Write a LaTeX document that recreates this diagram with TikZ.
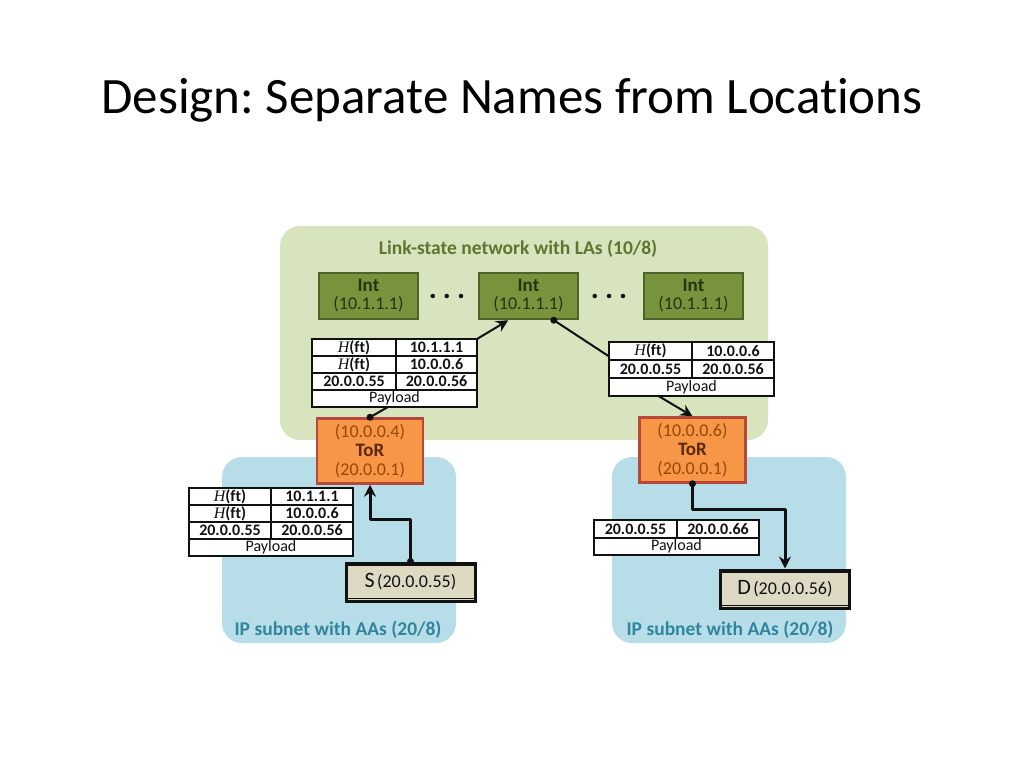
\documentclass[tikz,border=0pt]{standalone}
\usepackage{fontspec}
\setmainfont{Carlito}[Ligatures=NoCommon]
\newfontfamily\hfont{Liberation Serif}
\usepackage{xcolor}
\usetikzlibrary{positioning,calc,arrows.meta}
\definecolor{lagreen}{HTML}{D7E4BD}
\definecolor{latext}{HTML}{5F7530}
\definecolor{intfill}{HTML}{77933C}
\definecolor{intedge}{HTML}{4F6228}
\definecolor{inttext}{HTML}{26330D}
\definecolor{aablue}{HTML}{B7DEE8}
\definecolor{aatext}{HTML}{31859C}
\definecolor{torfill}{HTML}{F79646}
\definecolor{toredge}{HTML}{B5483A}
\definecolor{tortext}{HTML}{974806}
\definecolor{torname}{HTML}{5A2A08}
\definecolor{hostfill}{HTML}{DDD9C3}
\definecolor{ink}{HTML}{111111}
\newcommand{\Hft}{{\hfont\mdseries\itshape H}(ft)}
\frenchspacing
\tikzset{
  region/.style={rounded corners=20pt},
  zonelabel/.style={font=\fontsize{19.5}{20}\selectfont\bfseries},
  intbox/.style={
    draw=intedge, fill=intfill, line width=2.5pt,
    minimum width=99pt, minimum height=46pt, inner sep=0pt,
    align=center, text=inttext, font=\fontsize{18}{18}\selectfont
  },
  torbox/.style={
    draw=toredge, fill=torfill, line width=2.5pt,
    minimum width=106pt, minimum height=65pt, inner sep=0pt,
    align=center, text=tortext, font=\fontsize{18}{19}\selectfont
  },
  cell/.style={
    draw=ink, fill=white, line width=1.6pt,
    minimum height=17pt, inner sep=0pt, outer sep=0pt,
    text=ink, font=\fontsize{16}{16}\selectfont\bfseries
  },
  paycell/.style={cell, font=\fontsize{16}{16}\selectfont},
  hostbox/.style={
    draw=ink, fill=hostfill, line width=3pt,
    minimum width=129pt, minimum height=38pt, inner sep=0pt, text=ink
  },
  hop/.style={draw=ink, line width=2pt, line join=round,
    -{Stealth[length=12pt,width=12pt,inset=4pt]}},
  hopthick/.style={hop, line width=3pt},
  wire/.style={draw=ink, line width=2pt},
  dot/.style={circle, fill=ink, inner sep=0pt, minimum size=7pt},
  ellip/.style={font=\fontsize{30}{30}\selectfont\bfseries, text=ink, inner sep=0pt}
}

\begin{document}
\begin{tikzpicture}[x=1pt, y=-1pt]
  \useasboundingbox[fill=white] (0,0) rectangle (1024,768);

  \node[font=\fontsize{51}{51}\selectfont, anchor=base] (title) at (512,113)
    {Design: Separate Names from Locations};

  % the three zones
  \fill[region, lagreen] (280,226) rectangle (768,440);
  \fill[region, aablue] (222,457) rectangle (456,643);
  \fill[region, aablue] (612,457) rectangle (846,643);
  \node[zonelabel, text=latext] (lalabel) at (518,249) {Link-state network with LAs (10/8)};
  \node[zonelabel, text=aatext] (aalabell) at (338,630) {IP subnet with AAs (20/8)};
  \node[zonelabel, text=aatext] (aalabelr) at (730,630) {IP subnet with AAs (20/8)};

  % intermediate switches
  \node[intbox] (intl) at (368.5,296) {{\fontsize{19}{19}\selectfont\bfseries Int}\\(10.1.1.1)};
  \node[intbox] (intm) at (528.5,296) {{\fontsize{19}{19}\selectfont\bfseries Int}\\(10.1.1.1)};
  \node[intbox] (intr) at (693.5,296) {{\fontsize{19}{19}\selectfont\bfseries Int}\\(10.1.1.1)};
  \node[ellip] (dotsl) at (447,296) {.\hspace{6pt}.\hspace{6pt}.};
  \node[ellip] (dotsr) at (609,296) {.\hspace{6pt}.\hspace{6pt}.};

  % packet leaving the source ToR
  \node[cell, minimum width=84pt, anchor=north west] (la1) at (312,339) {\Hft};
  \node[cell, minimum width=81pt, right=0pt of la1] (lb1) {10.1.1.1};
  \node[cell, minimum width=84pt, below=0pt of la1] (la2) {\Hft};
  \node[cell, minimum width=81pt, right=0pt of la2] (lb2) {10.0.0.6};
  \node[cell, minimum width=84pt, below=0pt of la2] (la3) {20.0.0.55};
  \node[cell, minimum width=81pt, right=0pt of la3] (lb3) {20.0.0.56};
  \node[paycell, minimum width=165pt, anchor=north west] (lpay) at (la3.south west) {Payload};

  % packet after decapsulation at Int
  \node[cell, minimum width=83pt, minimum height=18pt, anchor=north west] (ra1) at (609,342) {\Hft};
  \node[cell, minimum width=82pt, minimum height=18pt, right=0pt of ra1] (rb1) {10.0.0.6};
  \node[cell, minimum width=83pt, minimum height=18pt, below=0pt of ra1] (ra2) {20.0.0.55};
  \node[cell, minimum width=82pt, minimum height=18pt, right=0pt of ra2] (rb2) {20.0.0.56};
  \node[paycell, minimum width=165pt, minimum height=18pt, anchor=north west] (rpay) at (ra2.south west) {Payload};

  % packet sent by the source
  \node[cell, minimum width=82pt, anchor=north west] (sa1) at (189,488) {\Hft};
  \node[cell, minimum width=82pt, right=0pt of sa1] (sb1) {10.1.1.1};
  \node[cell, minimum width=82pt, below=0pt of sa1] (sa2) {\Hft};
  \node[cell, minimum width=82pt, right=0pt of sa2] (sb2) {10.0.0.6};
  \node[cell, minimum width=82pt, below=0pt of sa2] (sa3) {20.0.0.55};
  \node[cell, minimum width=82pt, right=0pt of sa3] (sb3) {20.0.0.56};
  \node[paycell, minimum width=164pt, anchor=north west] (spay) at (sa3.south west) {Payload};

  % packet delivered to the destination
  \node[cell, minimum width=83pt, minimum height=18pt, anchor=north west] (da1) at (594,520) {20.0.0.55};
  \node[cell, minimum width=82pt, minimum height=18pt, right=0pt of da1] (db1) {20.0.0.66};
  \node[paycell, minimum width=165pt, anchor=north west] (dpay) at (da1.south west) {Payload};

  % top-of-rack switches
  \node[torbox] (torl) at (370,451) {(10.0.0.4)\\{\fontsize{19}{19}\selectfont\bfseries\color{torname}ToR}\\(20.0.0.1)};
  \node[torbox] (torr) at (692.5,450) {(10.0.0.6)\\{\fontsize{19}{19}\selectfont\bfseries\color{torname}ToR}\\(20.0.0.1)};

  % hosts
  \node[hostbox] (src) at (410.5,582) {{\fontsize{22}{22}\selectfont S} {\fontsize{18}{18}\selectfont(20.0.0.55)}};
  \node[hostbox] (dst) at (785,589) {{\fontsize{22}{22}\selectfont D} {\fontsize{18}{18}\selectfont(20.0.0.56)}};
  \foreach \h in {src,dst}{
    \draw[ink, line width=0.9pt] ([yshift=-4pt]\h.north west) -- ([yshift=-4pt]\h.north east);
    \draw[ink, line width=0.9pt] ([yshift=4pt]\h.south west) -- ([yshift=4pt]\h.south east);
  }

  % path of the packet
  \draw[hopthick] (src.north) -- ++(0,-42) -| (torl.south);
  \node[dot] at (src.north) {};
  \draw[wire] (torl.north) -- ($(lpay.south west)!0.46!(lpay.south east)$);
  \node[dot] at (torl.north) {};
  \draw[hop] (lb1.north east) -- ($(intm.south west)!0.3!(intm.south east)$);
  \draw[wire] ($(intm.south west)!0.75!(intm.south east)$) -- ($(ra1.west)!0.6!(ra1.south west)$);
  \node[dot] at ($(intm.south west)!0.75!(intm.south east)$) {};
  \draw[hop] ($(rpay.south west)!0.3!(rpay.south east)$) -- (torr.north);
  \draw[hopthick] (torr.south) -- ++(0,26) -| (dst.north);
  \node[dot] at (torr.south) {};
\end{tikzpicture}
\end{document}
